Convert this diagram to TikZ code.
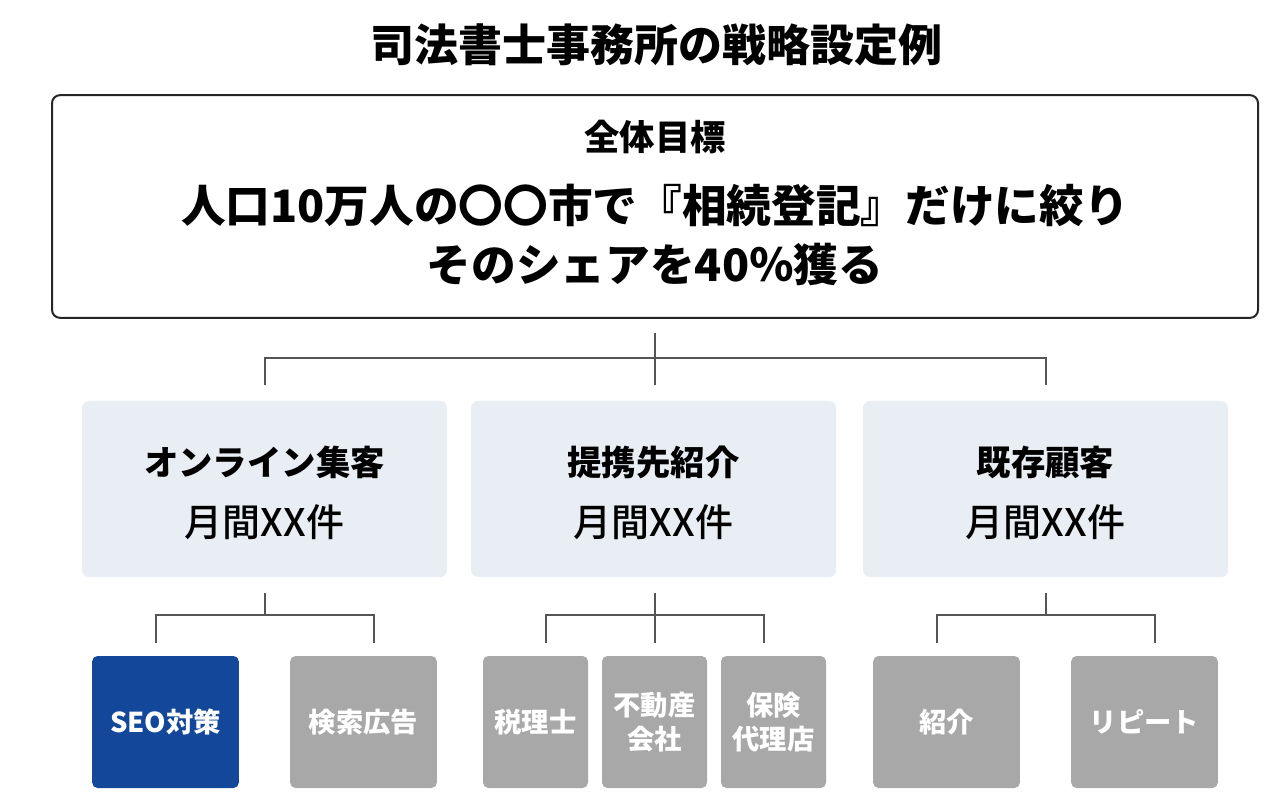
\documentclass[tikz,border=0pt]{standalone}
\usepackage{fontspec}
\setmainfont{Noto Sans CJK JP}
\newfontfamily\jpmed{Noto Sans CJK JP Medium}
\definecolor{midbg}{HTML}{E8EEF4}
\definecolor{seoblue}{HTML}{13479A}
\definecolor{subgray}{HTML}{A8A8A8}
\definecolor{linegray}{HTML}{555555}
\tikzset{
 conn/.style={draw=linegray,line width=0.8pt},
 midbox/.style={fill=midbg,rounded corners=5pt,minimum width=273.75pt,minimum height=132pt,inner sep=0pt},
 subbox/.style={fill=subgray,rounded corners=4pt,minimum width=110pt,minimum height=99pt,inner sep=0pt,text=white,align=center,font=\bfseries\fontsize{20.5}{25}\selectfont},
 smallbox/.style={subbox,minimum width=78.75pt},
 midtitle/.style={font=\bfseries\fontsize{25.8}{30}\selectfont},
 midtext/.style={font=\jpmed\fontsize{28.5}{32}\selectfont},
}
\begin{document}
\begin{tikzpicture}[x=0.75pt,y=-0.75pt]
\useasboundingbox (0,0) rectangle (1280,812);
\node[font=\bfseries\fontsize{33}{38}\selectfont] (title) at (656,45) {司法書士事務所の戦略設定例};
\node[draw=black!85,line width=1.5pt,rounded corners=6pt,minimum width=904.5pt,minimum height=167pt] (top) at (655,206.5) {};
\node[font=\bfseries\fontsize{26.5}{30}\selectfont] (goal) at (655,137) {全体目標};
\node[font=\bfseries\fontsize{33.5}{38}\selectfont] (l1) at (655,205) {人口10万人の〇〇市で『相続登記』だけに絞り};
\node[font=\bfseries\fontsize{33.5}{38}\selectfont] (l2) at (655,265) {そのシェアを40％獲る};

\node[midbox] (m1) at (264.5,489) {};
\node[midbox] (m2) at (653.5,489) {};
\node[midbox] (m3) at (1045.5,489) {};
\foreach \n/\x/\t in {m1/264.5/オンライン集客,m2/653.5/提携先紹介,m3/1045.5/既存顧客}{
 \node[midtitle] (\n t) at (\x,462) {\t};
 \node[midtext] (\n v) at (\x,522) {月間XX件};
}
\coordinate (c0) at (655,333);
\coordinate (h) at (655,358);
\draw[conn] (c0) -- (h);
\draw[conn] (265,385) -- (265,358) -- (1046,358) -- (1046,385);
\draw[conn] (h) -- (655,385);

\node[subbox,fill=seoblue] (s1) at (165.5,722) {SEO対策};
\node[subbox] (s2) at (363.5,722) {検索広告};
\node[smallbox] (s3) at (535.5,722) {税理士};
\node[smallbox] (s4) at (654.5,722) {不動産\\会社};
\node[smallbox] (s5) at (773.5,722) {保険\\代理店};
\node[subbox] (s6) at (946.5,722) {紹介};
\node[subbox] (s7) at (1144.5,722) {リピート};

\draw[conn] (265,593) -- (265,615);
\draw[conn] (156,643) -- (156,615) -- (374,615) -- (374,643);
\draw[conn] (655,593) -- (655,643);
\draw[conn] (546,643) -- (546,615) -- (764,615) -- (764,643);
\draw[conn] (1046,593) -- (1046,615);
\draw[conn] (937,643) -- (937,615) -- (1155,615) -- (1155,643);
\end{tikzpicture}
\end{document}
